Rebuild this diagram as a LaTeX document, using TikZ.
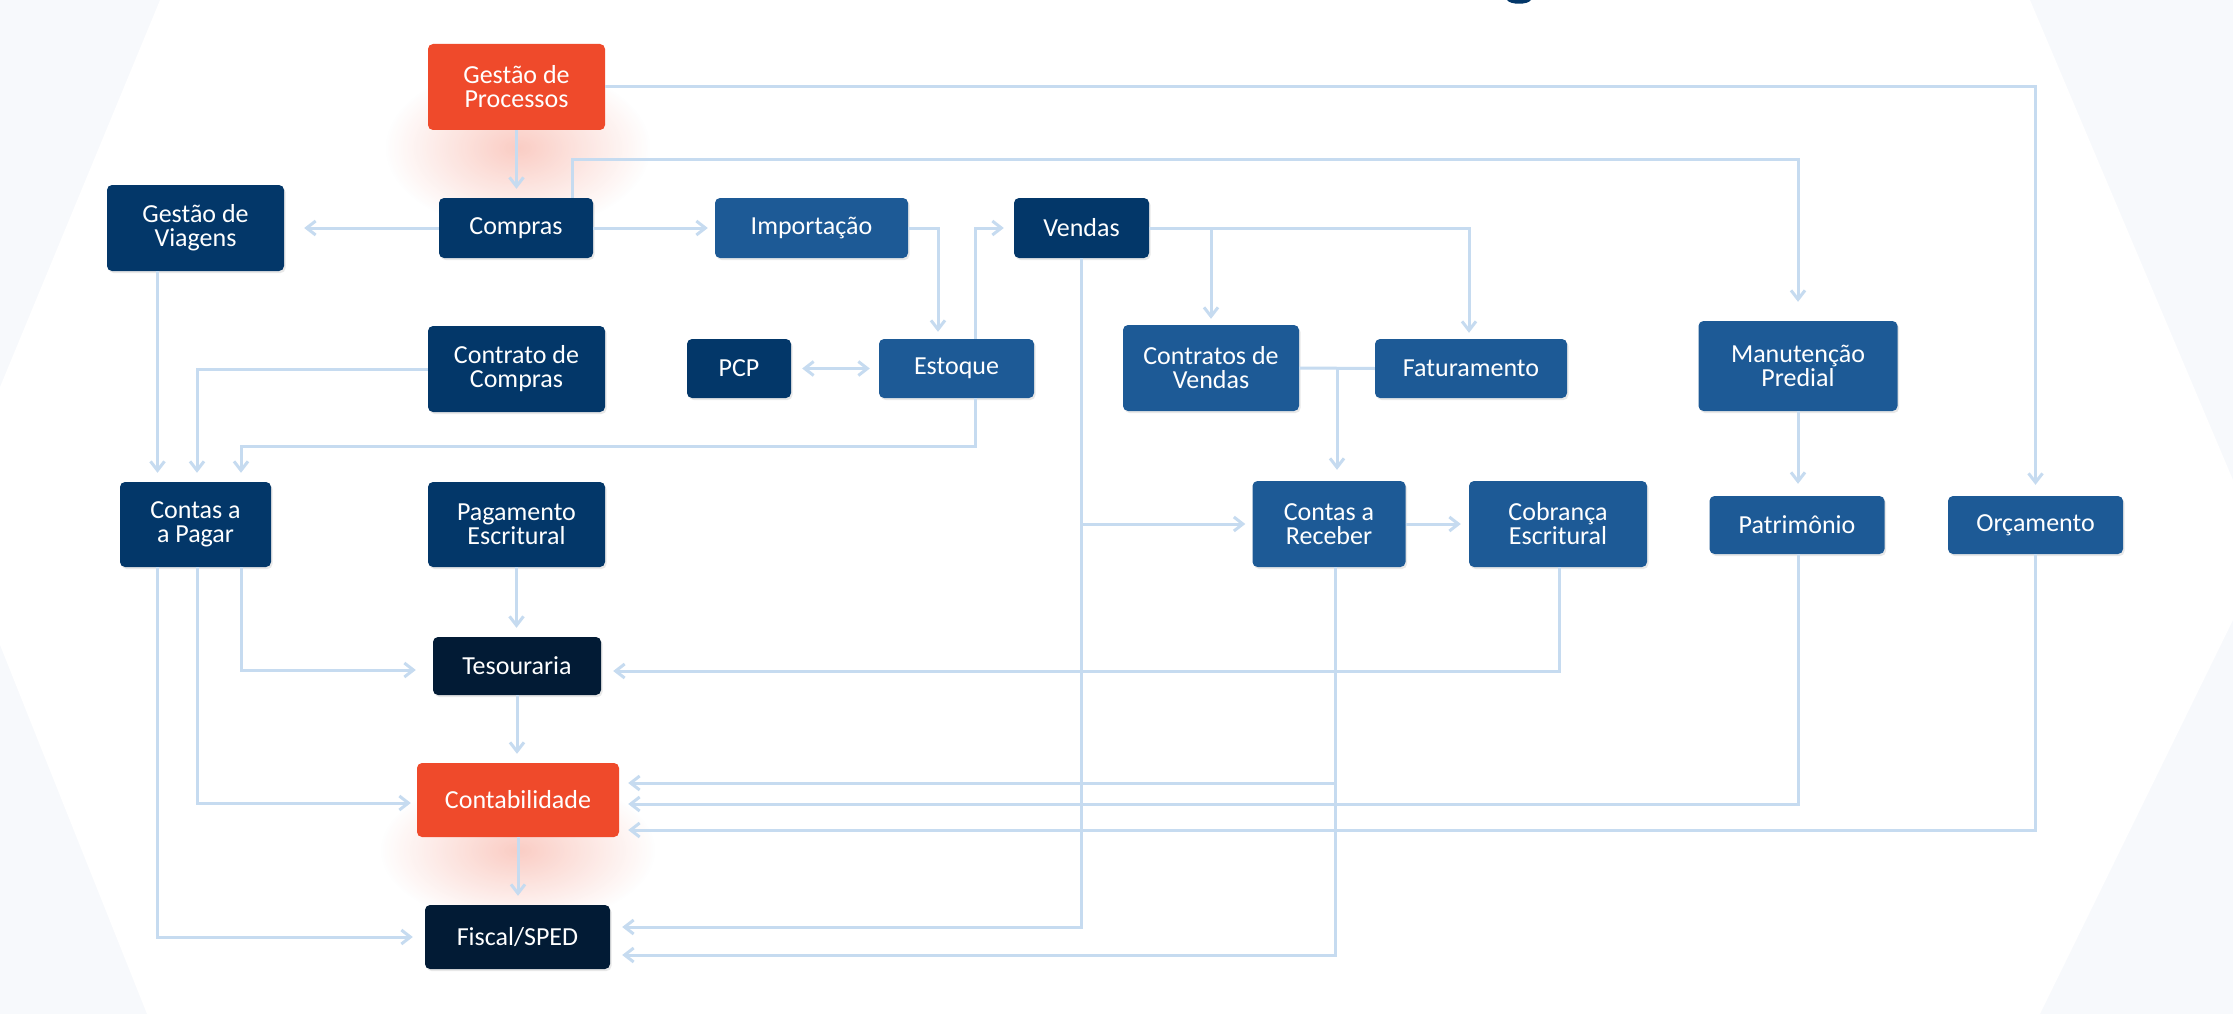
\documentclass[tikz,border=0pt]{standalone}
\usepackage{fontspec}
\setmainfont{Carlito}
\usetikzlibrary{arrows.meta,shadows,fadings}
\definecolor{orng}{RGB}{239,74,43}
\definecolor{navy}{RGB}{3,55,105}
\definecolor{midb}{RGB}{29,90,150}
\definecolor{ink}{RGB}{2,27,53}
\definecolor{conn}{RGB}{198,219,240}
\definecolor{faint}{RGB}{247,249,252}
\tikzfading[name=softglow, inner color=transparent!0, outer color=transparent!100]
\begin{document}
\begin{tikzpicture}[x=1pt,y=-1pt,
  box/.style={rectangle, rounded corners=5pt, text=white, align=center, inner sep=0pt,
    font=\fontsize{26}{24}\selectfont},
  shd/.style={drop shadow={opacity=0.18, shadow xshift=1.5pt, shadow yshift=-2pt}},
  navybox/.style={box, shd, fill=navy},
  midbox/.style={box, shd, fill=midb},
  inkbox/.style={box, shd, fill=ink},
  orbox/.style={box, fill=orng},
  glow/.style={fill=orng, opacity=0.28, path fading=softglow},
  link/.style={draw=conn, line width=3pt},
  arr/.style={link, -{Straight Barb[length=9pt,width=14pt]}, shorten >=9pt},
]
\useasboundingbox (0,0) rectangle (2233,1014);
% background
\fill[faint] (0,0) rectangle (2233,1014);
\fill[white] (160,0) -- (2030,0) -- (2233,480) -- (2233,620) -- (2040,1014) -- (147,1014) -- (0,645) -- (0,387) -- cycle;
\fill[navy] (1507,0) .. controls (1510,5) and (1528,5) .. (1531,0) -- cycle;
% glows
\fill[glow] (385,65) rectangle (650,230);
\fill[glow] (380,775) rectangle (655,925);

% nodes
\node[orbox, minimum width=177pt, minimum height=86pt] (gp) at (516.5,87) {Gestão de\\Processos};
\node[navybox, minimum width=154pt, minimum height=60pt] (compras) at (516,228) {Compras};
\node[navybox, minimum width=177pt, minimum height=86pt] (viagens) at (195.5,228) {Gestão de\\Viagens};
\node[midbox, minimum width=193pt, minimum height=60pt] (import) at (811.5,228) {Importação};
\node[navybox, minimum width=135pt, minimum height=60pt] (vendas) at (1081.5,228) {Vendas};
\node[navybox, minimum width=177pt, minimum height=86pt] (ccompras) at (516.5,369) {Contrato de\\Compras};
\node[navybox, minimum width=104pt, minimum height=59pt] (pcp) at (739,368.5) {PCP};
\node[midbox, minimum width=155pt, minimum height=59pt] (estoque) at (956.5,368.5) {Estoque};
\node[midbox, minimum width=176pt, minimum height=86pt] (cvendas) at (1211,368) {Contratos de\\Vendas};
\node[midbox, minimum width=192pt, minimum height=59pt] (fat) at (1471,368.5) {Faturamento};
\node[midbox, minimum width=199pt, minimum height=90pt] (manut) at (1798,366) {Manutenção\\Predial};
\node[navybox, minimum width=151pt, minimum height=85pt] (cap) at (195.5,524.5) {Contas a\\a Pagar};
\node[navybox, minimum width=177pt, minimum height=85pt] (pe) at (516.5,524.5) {Pagamento\\Escritural};
\node[midbox, minimum width=153pt, minimum height=86pt] (car) at (1329,524) {Contas a\\Receber};
\node[midbox, minimum width=178pt, minimum height=86pt] (cob) at (1558,524) {Cobrança\\Escritural};
\node[midbox, minimum width=175pt, minimum height=58pt] (pat) at (1797,525) {Patrimônio};
\node[midbox, minimum width=175pt, minimum height=58pt] (orc) at (2035.5,525) {Orçamento};
\node[inkbox, minimum width=168pt, minimum height=58pt] (tes) at (517,666) {Tesouraria};
\node[orbox, minimum width=202pt, minimum height=74pt] (cont) at (518,800) {Contabilidade};
\node[inkbox, minimum width=185pt, minimum height=64pt] (fiscal) at (517.5,937) {Fiscal/SPED};

% helper coordinates
\coordinate (capA) at ([xshift=-38pt]cap.north);
\coordinate (capB) at ([xshift=1.5pt]cap.north);
\coordinate (capC) at ([xshift=45.5pt]cap.north);
\coordinate (capAs) at ([xshift=-38pt]cap.south);
\coordinate (capBs) at ([xshift=1.5pt]cap.south);
\coordinate (capCs) at ([xshift=45.5pt]cap.south);
\coordinate (carin) at ([xshift=8pt]car.north);
\coordinate (carout) at ([xshift=6.5pt]car.south);
\coordinate (compup) at ([xshift=56pt]compras.north);
\coordinate (estup) at ([xshift=18.5pt]estoque.north);
\coordinate (estdn) at ([xshift=18.5pt]estoque.south);
\coordinate (estin) at ([xshift=-18.5pt]estoque.north);

% connectors
\draw[arr] (gp.south) -- (gp.south |- compras.north);
\draw[arr, shorten >=11pt] (gp.east) -| (orc.north);
\draw[arr, shorten >=20pt] (compras.west) -- (viagens.east);
\draw[arr, shorten >=19pt] (compup) -- ++(0,-38) -| (manut.north);
\draw[arr, shorten >=7pt] (compras.east) -- (import.west);
\draw[arr, shorten >=7pt] (import.east) -| (estin);
\draw[arr, shorten >=10pt] (estup) |- (vendas.west);
\draw[link, {Straight Barb[length=9pt,width=14pt]}-{Straight Barb[length=9pt,width=14pt]}, shorten <=11pt, shorten >=9pt] (pcp.east) -- (estoque.west);
\draw[arr, shorten >=6pt] (vendas.east) -| (cvendas.north);
\draw[arr, shorten >=6pt] (vendas.east) -| ([xshift=-2pt]fat.north);
\draw[link] (cvendas.east) -- (fat.west);
\draw[arr, shorten >=11pt] (carin |- cvendas.east) -- (carin);
\draw[arr, shorten >=12pt] (vendas.south) |- ([yshift=10pt]fiscal.east);
\draw[arr, shorten >=7pt] (vendas.south |- car.west) -- (car.west);
\draw[arr, shorten >=8pt] (car.east) -- (cob.west);
\draw[arr, shorten >=12pt] (carout) |- ([yshift=-18pt]fiscal.east);
\draw[arr] (carout) |- ([yshift=17pt]cont.east);
\draw[arr, shorten >=12pt] ([xshift=1.5pt]cob.south) |- ([yshift=-5pt]tes.east);
\draw[arr] ([xshift=1.5pt]pat.south) |- ([yshift=-4pt]cont.east);
\draw[arr] (orc.south) |- ([yshift=-30pt]cont.east);
\draw[arr, shorten >=12pt] (manut.south) -- (manut.south |- pat.north);
\draw[arr] (viagens.south -| capA) -- (capA);
\draw[arr] (ccompras.west) -| (capB);
\draw[arr] (estdn) -- ++(0,48) -| (capC);
\draw[arr, shorten >=17pt] (capCs) |- ([yshift=-4pt]tes.west);
\draw[arr, shorten >=6pt] (capBs) |- ([yshift=-3pt]cont.west);
\draw[arr, shorten >=12pt] (capAs) |- (fiscal.west);
\draw[arr] (pe.south) -- (pe.south |- tes.north);
\draw[arr] (tes.south) -- (tes.south |- cont.north);
\draw[arr] (cont.south) -- (cont.south |- fiscal.north);
\end{tikzpicture}
\end{document}
